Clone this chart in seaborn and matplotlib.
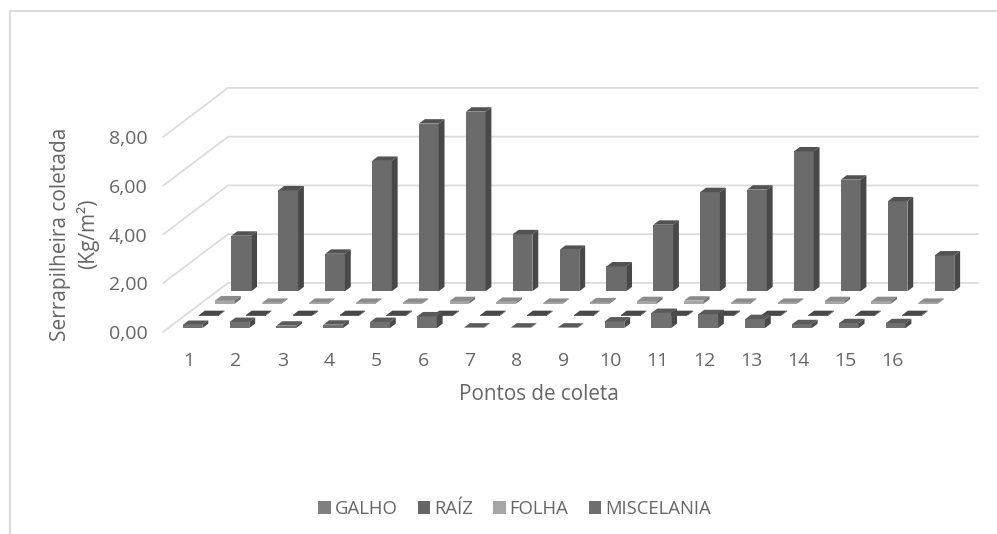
import numpy as np
import pandas as pd
import matplotlib
matplotlib.use("Agg")
import matplotlib.pyplot as plt
from matplotlib.lines import Line2D
from matplotlib.patches import Patch
import seaborn as sns

# Serrapilheira coletada (Kg/m2) por ponto de coleta
pontos = list(range(1, 17))
galho = [0.13, 0.25, 0.10, 0.14, 0.25, 0.48, 0.02, 0.02, 0.02, 0.27, 0.62, 0.57, 0.37, 0.16, 0.20, 0.20]
raiz = [0.03] * 16
folha = [0.13, 0.03, 0.03, 0.03, 0.03, 0.10, 0.07, 0.03, 0.05, 0.10, 0.12, 0.03, 0.03, 0.10, 0.10, 0.03]
miscelania = [2.28, 4.14, 1.54, 5.35, 6.88, 7.37, 2.34, 1.70, 1.02, 2.73, 4.07, 4.17, 5.74, 4.58, 3.69, 1.47]

series_names = ["GALHO", "RAÍZ", "FOLHA", "MISCELANIA"]
series_values = [galho, raiz, folha, miscelania]
front_colors = ["#707070", "#666666", "#a6a6a6", "#6b6b6b"]
top_colors = ["#5a5a5a", "#484848", "#8c8c8c", "#525252"]
side_colors = ["#4a4a4a", "#444444", "#6e6e6e", "#484848"]
legend_colors = ["#7f7f7f", "#666666", "#a6a6a6", "#6e6e6e"]

y_ticks = [0, 2, 4, 6, 8]
TEXT = "#666666"
GRID = "#dcdcdc"

sns.set_theme(style="white")
plt.rcParams["font.family"] = ["Open Sans", "DejaVu Sans"]

W, H = 997, 534
fig = plt.figure(figsize=(W / 100, H / 100), dpi=100)
left, right, top, bottom = 163, 913, 137, 332
ax = fig.add_axes([left / W, 1 - bottom / H, (right - left) / W, (bottom - top) / H])
ax.patch.set_alpha(0)

# Oblique projection: a full step through the floor moves this far in data units
DEPTH_X = 65 / 46.875
DEPTH_Y = 49 / 24.35
BAR_WIDTH = 0.42
BAR_DEPTH = 0.09
X_NUDGE = 0.02

for r, (values, front, topc, side) in enumerate(zip(series_values, front_colors, top_colors, side_colors)):
    depth = (r + 0.5) / 4 - BAR_DEPTH / 2
    z = 10 - r
    xs = np.array(pontos) + depth * DEPTH_X + X_NUDGE
    base = depth * DEPTH_Y
    frame = pd.DataFrame({"x": xs, "y": values})
    sns.barplot(data=frame, x="x", y="y", native_scale=True, width=BAR_WIDTH, color=front,
                saturation=1, errorbar=None, bottom=base, linewidth=0, clip_on=False,
                zorder=z, ax=ax)
    dx, dy = BAR_DEPTH * DEPTH_X, BAR_DEPTH * DEPTH_Y
    hw = BAR_WIDTH / 2
    for x, v in zip(xs, values):
        yt = base + v
        ax.fill([x - hw, x + hw, x + hw + dx, x - hw + dx], [yt, yt, yt + dy, yt + dy],
                color=topc, lw=0, clip_on=False, zorder=z)
        ax.fill([x + hw, x + hw + dx, x + hw + dx, x + hw], [base, base + dy, yt + dy, yt],
                color=side, lw=0, clip_on=False, zorder=z)

# Floor and back wall gridlines
for v in y_ticks:
    ax.plot([0.5, 0.5 + DEPTH_X, 16.5 + DEPTH_X], [v, v + DEPTH_Y, v + DEPTH_Y],
            color=GRID, lw=1.3, clip_on=False, zorder=0.5, solid_joinstyle="miter")

ax.set_xlim(0.5, 16.5)
ax.set_ylim(0, 8)
ax.set_xticks(np.array(pontos) + 0.05)
ax.set_xticklabels([str(p) for p in pontos])
ax.set_yticks(y_ticks)
ax.set_yticklabels([f"{v:.2f}".replace(".", ",") for v in y_ticks])
ax.tick_params(axis="both", length=0, labelsize=14, labelcolor=TEXT)
ax.tick_params(axis="y", pad=11)
ax.tick_params(axis="x", pad=14.5)
ax.set_xlabel("")
ax.set_ylabel("")
sns.despine(ax=ax, left=True, bottom=True)

fig.text(539 / W, 1 - 395 / H, "Pontos de coleta", ha="center", va="center", fontsize=14.9, color=TEXT)
fig.text(74.5 / W, 1 - 234 / H, "Serrapilheira coletada\n(Kg/m²)", ha="center", va="center",
         rotation=90, fontsize=15, color=TEXT, linespacing=1.3, multialignment="center")

handles = [Patch(facecolor=c, edgecolor="none", label=n) for n, c in zip(series_names, legend_colors)]
fig.legend(handles=handles, loc="center", bbox_to_anchor=(514.5 / W, 1 - 509 / H), ncol=4, frameon=False,
           fontsize=13.3, labelcolor=TEXT, handlelength=0.68, handleheight=0.68, handletextpad=0.2,
           columnspacing=1.1)

# Chart frame: left and top edges only
fig.add_artist(Line2D([9.5 / W, 9.5 / W, 1], [0, 1 - 11 / H, 1 - 11 / H], color=GRID, lw=1.6))

fig.savefig("out.png", dpi=100)
